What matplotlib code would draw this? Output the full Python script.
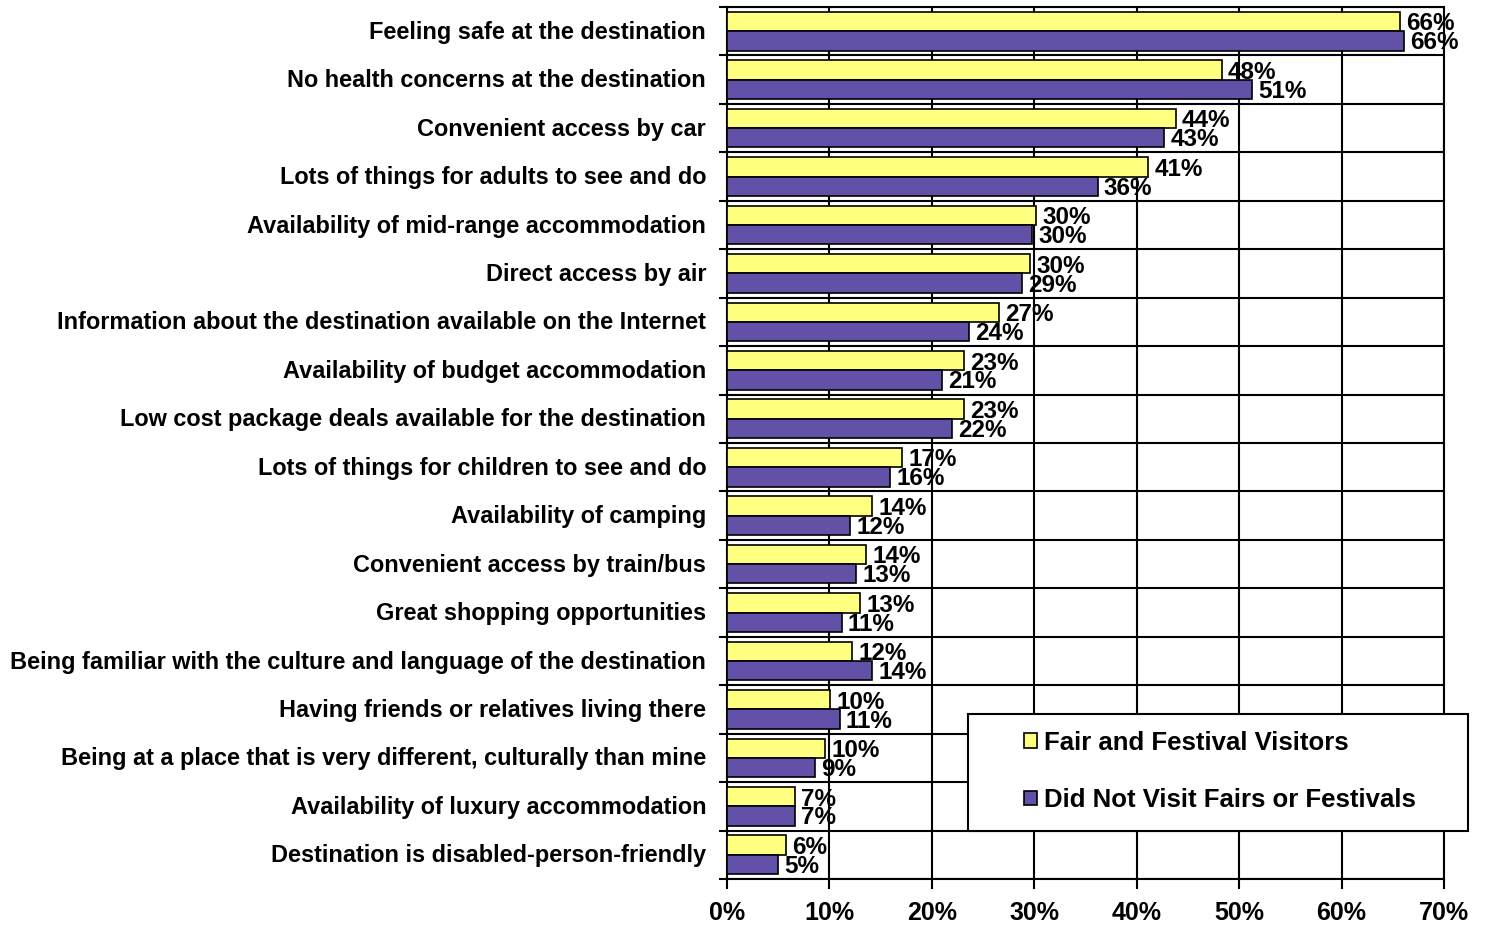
import matplotlib
matplotlib.use("Agg")
import matplotlib.pyplot as plt
from matplotlib.patches import Rectangle
import numpy as np

categories = [
    "Feeling safe at the destination",
    "No health concerns at the destination",
    "Convenient access by car",
    "Lots of things for adults to see and do",
    "Availability of mid-range accommodation",
    "Direct access by air",
    "Information about the destination available on the Internet",
    "Availability of budget accommodation",
    "Low cost package deals available for the destination",
    "Lots of things for children to see and do",
    "Availability of camping",
    "Convenient access by train/bus",
    "Great shopping opportunities",
    "Being familiar with the culture and language of the destination",
    "Having friends or relatives living there",
    "Being at a place that is very different, culturally than mine",
    "Availability of luxury accommodation",
    "Destination is disabled-person-friendly",
]
fair_visitors = [65.7, 48.3, 43.8, 41.1, 30.2, 29.6, 26.6, 23.1, 23.1, 17.1,
                 14.2, 13.6, 13.0, 12.2, 10.1, 9.6, 6.6, 5.8]
non_visitors = [66.1, 51.3, 42.7, 36.2, 29.8, 28.8, 23.6, 21.0, 22.0, 15.9,
                12.0, 12.6, 11.2, 14.2, 11.0, 8.6, 6.6, 5.0]
series_names = ["Fair and Festival Visitors", "Did Not Visit Fairs or Festivals"]
xticks = [0, 10, 20, 30, 40, 50, 60, 70]

yellow = "#FFFF80"
purple = "#6351A8"
FONT = "Liberation Sans"

W, H = 1486, 925
fig = plt.figure(figsize=(W / 100, H / 100), dpi=100)
ax = fig.add_axes([727 / W, 46 / H, (1444 - 727) / W, (879 - 7) / H])

n = len(categories)
y = np.arange(n)
h = 0.4
b1 = ax.barh(y - 0.2, fair_visitors, height=h, color=yellow, edgecolor="black",
             linewidth=1.2, label=series_names[0], zorder=3)
b2 = ax.barh(y + 0.2, non_visitors, height=h, color=purple, edgecolor="black",
             linewidth=1.2, label=series_names[1], zorder=3)

lblfont = dict(fontfamily=FONT, fontweight="bold", fontsize=17.5, color="black", zorder=5)
for yi, v in zip(y, fair_visitors):
    ax.text(v + 0.6, yi - 0.15, f"{int(round(v))}%", va="center", ha="left", **lblfont)
for yi, v in zip(y, non_visitors):
    ax.text(v + 0.6, yi + 0.24, f"{int(round(v))}%", va="center", ha="left", **lblfont)

ax.set_xlim(0, 70)
ax.set_ylim(n - 0.5, -0.5)
ax.set_xticks(xticks)
ax.set_xticklabels([f"{t}%" for t in xticks], fontfamily=FONT, fontweight="bold", fontsize=18)
ax.tick_params(axis="x", direction="out", length=7, width=1.5, pad=9)

ax.set_yticks(y - 0.03)
ax.set_yticklabels(categories, fontfamily=FONT, fontweight="bold", fontsize=16.9)
ax.tick_params(axis="y", which="major", length=0, pad=15)
ax.set_yticks(np.arange(n + 1) - 0.5, minor=True)
ax.tick_params(axis="y", which="minor", direction="out", length=6, width=1.5)

ax.grid(True, which="minor", axis="y", color="black", linewidth=1.5, zorder=1)
ax.grid(True, which="major", axis="x", color="black", linewidth=1.5, zorder=1)
ax.set_axisbelow(True)
for s in ax.spines.values():
    s.set_linewidth(1.5)
    s.set_color("black")

# legend box
bx0, by0, bw, bh = 968 / W, (H - 831) / H, 500 / W, 117 / H
fig.patches.append(Rectangle((bx0, by0), bw, bh, transform=fig.transFigure,
                             facecolor="white", edgecolor="black", linewidth=1.5,
                             zorder=9))
leg = fig.legend(handles=[b1, b2], labels=series_names,
                 loc="center", bbox_to_anchor=(bx0 + bw / 2 + 2 / W, by0 + bh / 2 + 1 / H),
                 frameon=False,
                 prop=dict(family=FONT, weight="bold", size=18.5),
                 handlelength=0.5, handleheight=0.5, handletextpad=0.3,
                 labelspacing=1.3, borderpad=0, borderaxespad=0)
leg.set_zorder(10)

fig.savefig("out.png", dpi=100)
